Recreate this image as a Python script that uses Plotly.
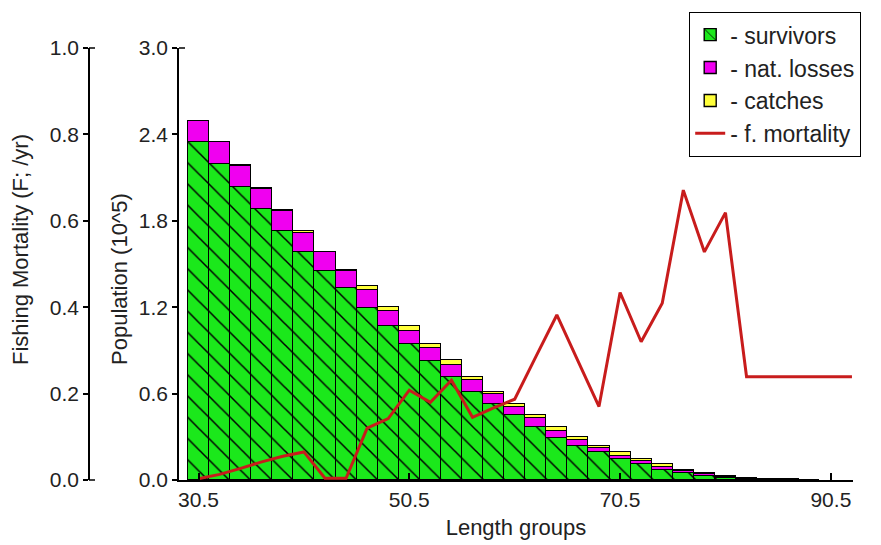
import plotly.graph_objects as go

# ---------------- data ----------------
length_groups = [30.5, 32.5, 34.5, 36.5, 38.5, 40.5, 42.5, 44.5, 46.5, 48.5,
                 50.5, 52.5, 54.5, 56.5, 58.5, 60.5, 62.5, 64.5, 66.5, 68.5,
                 70.5, 72.5, 74.5, 76.5, 78.5, 80.5, 82.5, 84.5, 86.5, 88.5,
                 90.5, 92.5]

survivors = [2.350, 2.194, 2.032, 1.880, 1.727, 1.582, 1.450, 1.333, 1.195, 1.070,
             0.942, 0.828, 0.712, 0.611, 0.526, 0.452, 0.367, 0.295, 0.238, 0.192,
             0.146, 0.110, 0.072, 0.048, 0.030, 0.017, 0.010, 0.005, 0.002, 0.0005,
             None, None]

nat_losses = [0.145, 0.152, 0.150, 0.140, 0.138, 0.130, 0.135, 0.121, 0.125, 0.106,
              0.095, 0.088, 0.088, 0.085, 0.068, 0.058, 0.062, 0.044, 0.040, 0.032,
              0.024, 0.022, 0.020, 0.012, 0.009, 0.006, 0.004, 0.003, 0.002, 0.001,
              None, None]

catches = [0.001, 0.004, 0.008, 0.010, 0.013, 0.018, 0.001, 0.001, 0.025, 0.026,
           0.035, 0.026, 0.030, 0.018, 0.018, 0.018, 0.024, 0.026, 0.020, 0.012,
           0.022, 0.014, 0.016, 0.012, 0.009, 0.007, 0.003, 0.002, 0.001, 0.0005,
           None, None]

f_mortality = [0.003, 0.013, 0.027, 0.042, 0.055, 0.065, 0.004, 0.004, 0.120, 0.142,
               0.208, 0.180, 0.231, 0.145, 0.167, 0.187, 0.285, 0.382, 0.276, 0.170,
               0.434, 0.320, 0.409, 0.671, 0.528, 0.619, 0.239, 0.239, 0.239, 0.239,
               0.239, 0.239]

x_tick_vals = [30.5, 50.5, 70.5, 90.5]
x_tick_text = ["30.5", "50.5", "70.5", "90.5"]
pop_tick_vals = [0.0, 0.6, 1.2, 1.8, 2.4, 3.0]
pop_tick_text = ["0.0", "0.6", "1.2", "1.8", "2.4", "3.0"]
f_tick_vals = [0.0, 0.2, 0.4, 0.6, 0.8, 1.0]
f_tick_text = ["0.0", "0.2", "0.4", "0.6", "0.8", "1.0"]

# ---------------- styling ----------------
FONT = "Arial, 'Liberation Sans', sans-serif"
TXT = "#222222"
FS_TICK = 21
FS_TITLE = 22
FS_LEG = 23
GREEN = "#1BE81B"
MAGENTA = "#F000F0"
YELLOW = "#FFFF3A"
RED = "#C81C1C"

W, H = 881, 545
ML, MR, MT, MB = 81, 36, 40, 73
PW = W - ML - MR
PH = H - MT - MB


def px_x(px):
    return (px - ML) / PW


def px_y(py):
    return (H - MB - py) / PH


bar_line = dict(color="black", width=1.4)

fig = go.Figure()
fig.add_trace(go.Bar(
    x=length_groups, y=survivors, width=2, name="- survivors",
    marker=dict(color=GREEN, line=bar_line,
                pattern=dict(shape="\\", fillmode="overlay", fgcolor="black",
                             fgopacity=1, size=15, solidity=0.1)),
))
fig.add_trace(go.Bar(
    x=length_groups, y=nat_losses, width=2, name="- nat. losses",
    marker=dict(color=MAGENTA, line=bar_line),
))
fig.add_trace(go.Bar(
    x=length_groups, y=catches, width=2, name="- catches",
    marker=dict(color=YELLOW, line=bar_line),
))
fig.add_trace(go.Scatter(
    x=length_groups, y=f_mortality, yaxis="y2", mode="lines", name="- f. mortality",
    line=dict(color=RED, width=3),
))

axis_common = dict(showgrid=False, zeroline=False, showline=True, linecolor="black",
                   linewidth=1.5, tickcolor="black",
                   tickfont=dict(family=FONT, size=FS_TICK, color=TXT))

# small inward end-caps at the top/bottom of the vertical axes (as in the original)
end_caps = []
for ax_px, ends in ((ML, (MT, H - MB)), (171, (MT,))):
    for yy in ends:
        end_caps.append(dict(type="line", xref="paper", yref="paper",
                             x0=px_x(ax_px), x1=px_x(ax_px + 6),
                             y0=px_y(yy), y1=px_y(yy),
                             line=dict(color="black", width=1.5)))

fig.update_layout(
    width=W, height=H,
    margin=dict(l=ML, r=MR, t=MT, b=MB, autoexpand=False),
    paper_bgcolor="white", plot_bgcolor="white",
    barmode="stack", bargap=0,
    font=dict(family=FONT, size=FS_TICK, color=TXT),
    xaxis=dict(domain=[px_x(171), 1], range=[28.65, 92.6],
               tickmode="array", tickvals=x_tick_vals, ticktext=x_tick_text,
               ticks="inside", ticklen=7, tickwidth=1.5,
               title=dict(text="Length groups", standoff=10,
                          font=dict(family=FONT, size=FS_TITLE, color=TXT)),
               **axis_common),
    yaxis=dict(range=[0, 3], anchor="x",
               tickmode="array", tickvals=pop_tick_vals, ticktext=pop_tick_text,
               ticks="outside", ticklen=5, tickwidth=1.5, **axis_common),
    yaxis2=dict(range=[0, 1], overlaying="y", side="left", anchor="free", position=0,
                tickmode="array", tickvals=f_tick_vals, ticktext=f_tick_text,
                ticks="outside", ticklen=5, tickwidth=1.5, **axis_common),
    legend=dict(x=px_x(681), y=px_y(4), xanchor="left", yanchor="top",
                bgcolor="white", bordercolor="black", borderwidth=1.2,
                font=dict(family=FONT, size=FS_LEG, color=TXT),
                traceorder="normal", itemwidth=30),
    shapes=end_caps,
    annotations=[
        dict(text="Fishing Mortality (F; /yr)", textangle=-90, showarrow=False,
             xref="paper", yref="paper", x=px_x(12), y=px_y(242),
             xanchor="center", yanchor="middle",
             font=dict(family=FONT, size=FS_TITLE, color=TXT)),
        dict(text="Population (10^5)", textangle=-90, showarrow=False,
             xref="paper", yref="paper", x=px_x(111), y=px_y(271),
             xanchor="center", yanchor="middle",
             font=dict(family=FONT, size=FS_TITLE, color=TXT)),
    ],
)

fig.write_html("out.html")
